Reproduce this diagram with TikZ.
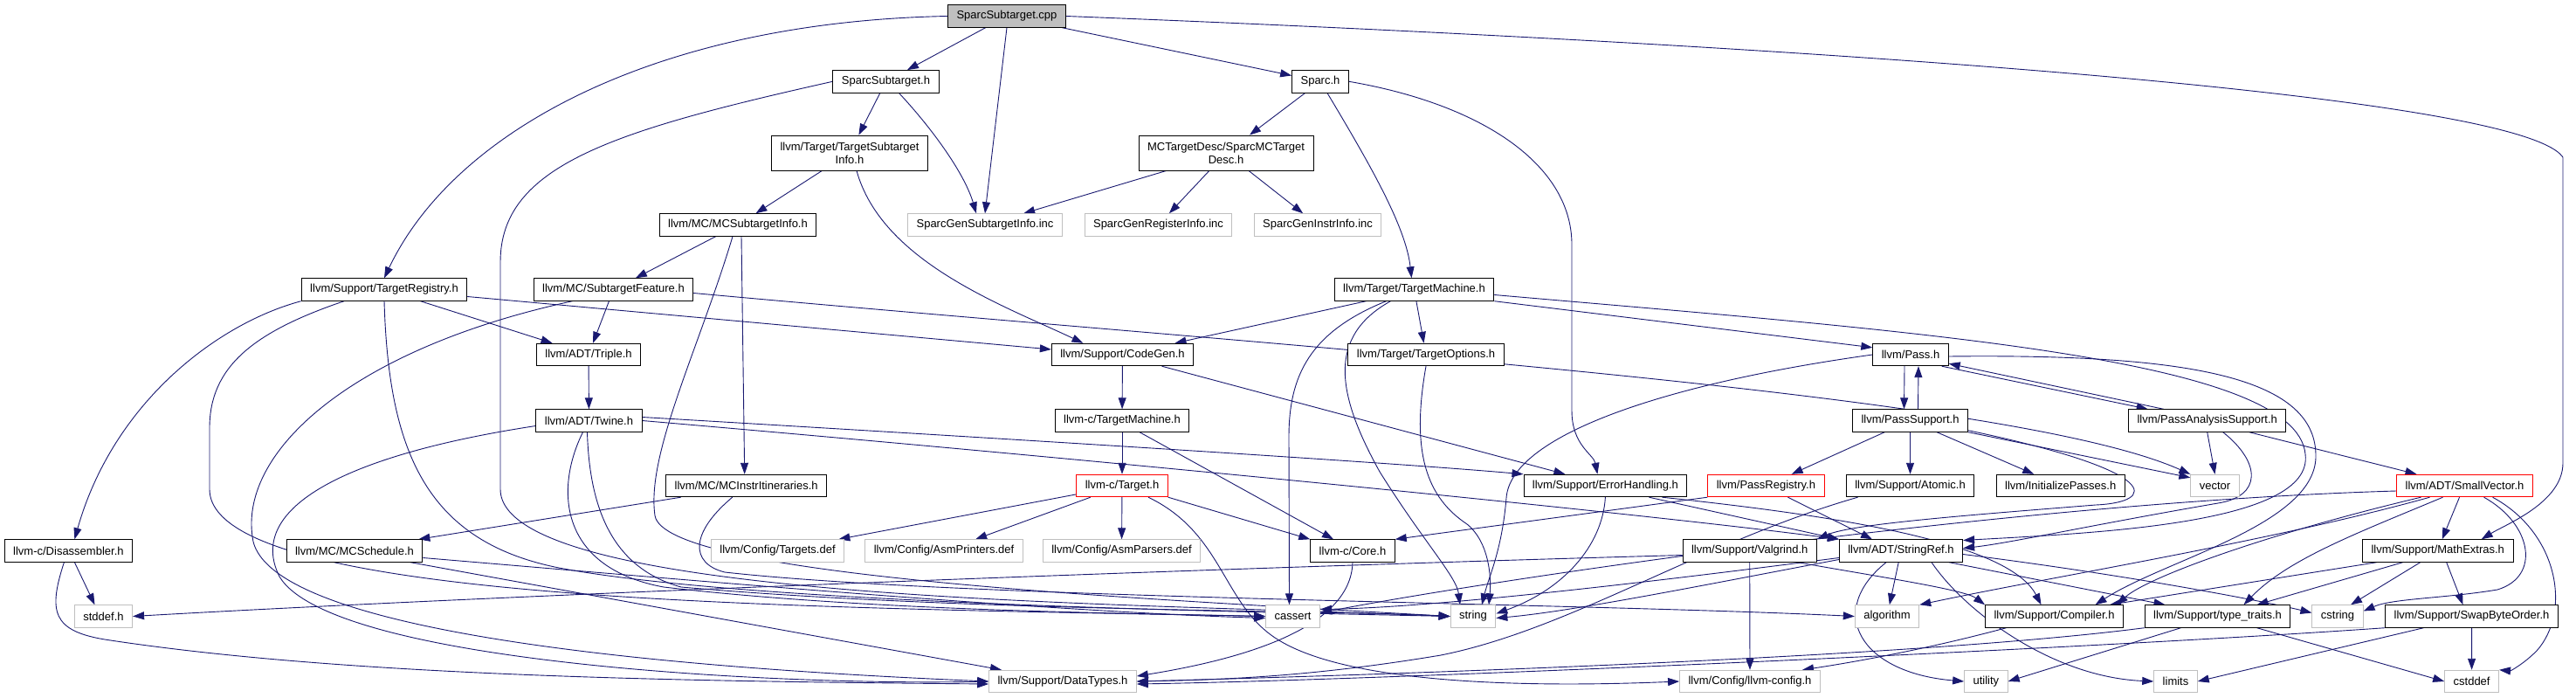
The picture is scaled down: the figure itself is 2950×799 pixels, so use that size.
\documentclass[tikz,border=0pt]{standalone}
\usepackage{fontspec}
\setmainfont{Liberation Sans}
\usepackage{tikz}
\usetikzlibrary{arrows.meta, backgrounds}

\definecolor{edgeblue}{HTML}{191970}
\definecolor{boxgray}{HTML}{BFBFBF}

\tikzset{
  hdr/.style={draw=black, line width=0.9pt, fill=white, inner xsep=10pt, inner ysep=0pt,
    minimum height=25.5pt, font=\fontsize{13}{15}\selectfont},
  hdrtwo/.style={hdr, align=center, minimum height=40pt},
  sys/.style={hdr, draw=boxgray},
  trunc/.style={hdr, draw=red},
  root/.style={hdr, fill=boxgray},
  inc/.style={draw=edgeblue, line width=0.9pt, -{Triangle[length=13pt,width=9pt]}}
}

\begin{document}
\begin{tikzpicture}[x=1pt, y=-1pt]
			\useasboundingbox (0,0) rectangle (2950,799);
			
			% Wurzel
			\node[root] (cpp) at (1153,18.5) {SparcSubtarget.cpp};
			
			% Ebene 1 und 2
			\node[hdr] (sh) at (1014.5,93.3) {SparcSubtarget.h};
			\node[hdr] (sparch) at (1512,93.3) {Sparc.h};
			\node[hdrtwo] (tsi) at (973,175) {llvm/Target/TargetSubtarget\\Info.h};
			\node[hdrtwo] (mctd) at (1404,175) {MCTargetDesc/SparcMCTarget\\Desc.h};
			\node[hdr] (mcsi) at (845,257.5) {llvm/MC/MCSubtargetInfo.h};
			\node[sys] (gensub) at (1128,257.5) {SparcGenSubtargetInfo.inc};
			\node[sys] (genreg) at (1326.5,257.5) {SparcGenRegisterInfo.inc};
			\node[sys] (geninstr) at (1509,257.5) {SparcGenInstrInfo.inc};
			
			% Ebene 3 bis 5
			\node[hdr] (treg) at (440,331.5) {llvm/Support/TargetRegistry.h};
			\node[hdr] (stf) at (702.5,331.5) {llvm/MC/SubtargetFeature.h};
			\node[hdr] (tm) at (1619.5,331.5) {llvm/Target/TargetMachine.h};
			\node[hdr] (triple) at (674,406) {llvm/ADT/Triple.h};
			\node[hdr] (codegen) at (1285.5,406) {llvm/Support/CodeGen.h};
			\node[hdr] (topt) at (1633,406) {llvm/Target/TargetOptions.h};
			\node[hdr] (pass) at (2188,406) {llvm/Pass.h};
			\node[hdr] (twine) at (674.5,481.5) {llvm/ADT/Twine.h};
			\node[hdr] (ctm) at (1285,481.5) {llvm-c/TargetMachine.h};
			\node[hdr] (psup) at (2187.5,481.5) {llvm/PassSupport.h};
			\node[hdr] (pas) at (2527.7,481.5) {llvm/PassAnalysisSupport.h};
			
			% Ebene 6 und 7
			\node[hdr] (mcii) at (854.7,556) {llvm/MC/MCInstrItineraries.h};
			\node[trunc] (ctarget) at (1285,556) {llvm-c/Target.h};
			\node[hdr] (eh) at (1838.4,556) {llvm/Support/ErrorHandling.h};
			\node[trunc] (preg) at (2022.4,556) {llvm/PassRegistry.h};
			\node[hdr] (atomic) at (2187.5,556) {llvm/Support/Atomic.h};
			\node[hdr] (initp) at (2359.7,556) {llvm/InitializePasses.h};
			\node[sys] (vector) at (2536.5,556) {vector};
			\node[trunc] (smallvec) at (2822.5,556) {llvm/ADT/SmallVector.h};
			\node[hdr] (disasm) at (78.4,630.5) {llvm-c/Disassembler.h};
			\node[hdr] (mcsched) at (406,630.5) {llvm/MC/MCSchedule.h};
			\node[sys] (targetsdef) at (890.5,630.5) {llvm/Config/Targets.def};
			\node[sys] (asmprint) at (1081,630.5) {llvm/Config/AsmPrinters.def};
			\node[sys] (asmparse) at (1284.5,630.5) {llvm/Config/AsmParsers.def};
			\node[hdr] (ccore) at (1549,630.5) {llvm-c/Core.h};
			\node[hdr] (valgrind) at (2003.7,630.5) {llvm/Support/Valgrind.h};
			\node[hdr] (strref) at (2177,630.5) {llvm/ADT/StringRef.h};
			\node[hdr] (mathext) at (2791.7,630.5) {llvm/Support/MathExtras.h};
			
			% Ebene 8 und 9
			\node[sys] (stddef) at (118.5,705.5) {stddef.h};
			\node[sys] (cassert) at (1480.5,705.5) {cassert};
			\node[sys] (string) at (1687,705.5) {string};
			\node[sys] (algorithm) at (2161,705.5) {algorithm};
			\node[hdr] (compiler) at (2352.5,705.5) {llvm/Support/Compiler.h};
			\node[hdr] (typetraits) at (2539.5,705.5) {llvm/Support/type\_traits.h};
			\node[sys] (cstring) at (2677,705.5) {cstring};
			\node[hdr] (swap) at (2830.5,705.5) {llvm/Support/SwapByteOrder.h};
			\node[sys] (datatypes) at (1217,780) {llvm/Support/DataTypes.h};
			\node[sys] (llvmconfig) at (2004,780) {llvm/Config/llvm-config.h};
			\node[sys] (utility) at (2274.4,780) {utility};
			\node[sys] (limits) at (2491.5,780) {limits};
			\node[sys] (cstddef) at (2830.6,780) {cstddef};
			
			\begin{scope}[on background layer]
			% SparcSubtarget.cpp
			\draw[inc] (cpp) -- (sh);
			\draw[inc] (cpp) -- (sparch);
			\draw[inc] (cpp.south) -- (gensub.north);
			\draw[inc] (cpp.west) .. controls (750,25) and (520,150) .. (treg.north);
			\draw[inc] (cpp.east) .. controls (1900,45) and (2880,100) .. (2935,180) -- (2935,530) .. controls (2935,575) and (2870,600) .. ([xshift=50]mathext.north);
			
			% SparcSubtarget.h, Sparc.h
			\draw[inc] (sh) -- (tsi);
			\draw[inc] ([xshift=15]sh.south) .. controls (1070,150) and (1105,200) .. ([xshift=-10]gensub.north);
			\draw[inc] (sh.west) .. controls (700,150) and (573,190) .. (573,300) -- (573,560) .. controls (573,690) and (1300,690) .. (string.west);
			\draw[inc] (sparch) -- (mctd);
			\draw[inc] ([xshift=8]sparch.south) .. controls (1570,190) and (1610,260) .. ([xshift=-3]tm.north);
			\draw[inc] (sparch.east) .. controls (1700,120) and (1800,190) .. (1800,280) -- (1800,470) .. controls (1800,510) and (1825,520) .. ([xshift=-9]eh.north);
			
			% TargetSubtargetInfo.h, SparcMCTargetDesc.h
			\draw[inc] (tsi) -- (mcsi);
			\draw[inc] ([xshift=8]tsi.south) .. controls (1010,300) and (1150,350) .. ([xshift=-45]codegen.north);
			\draw[inc] (mctd) -- (gensub);
			\draw[inc] (mctd) -- (genreg);
			\draw[inc] (mctd) -- (geninstr);
			
			% MCSubtargetInfo.h
			\draw[inc] (mcsi) -- (stf);
			\draw[inc] ([xshift=4]mcsi.south) -- ([xshift=-2]mcii.north);
			\draw[inc] ([xshift=-6]mcsi.south) .. controls (800,400) and (740,520) .. (750,590) .. controls (760,660) and (1300,685) .. (string.west);
			
			% TargetRegistry.h
			\draw[inc] (treg.south west) .. controls (250,370) and (130,460) .. ([xshift=7]disasm.north);
			\draw[inc] (treg) -- (triple);
			\draw[inc] ([yshift=-8]treg.east) -- ([yshift=6]codegen.west);
			\draw[inc] ([xshift=-46]treg.south) .. controls (290,380) and (240,420) .. (240,490) -- (240,560) .. controls (240,690) and (900,695) .. (cassert.west);
			\draw[inc] (treg.south) .. controls (445,520) and (490,620) .. (640,650) .. controls (850,690) and (1400,700) .. (string.west);
			
			% SubtargetFeature.h
			\draw[inc] (stf) -- (triple);
			\draw[inc] ([xshift=-47]stf.south) .. controls (400,400) and (270,520) .. (290,620) .. controls (320,740) and (900,770) .. (datatypes.west);
			\draw[inc] ([yshift=-4]stf.east) .. controls (1500,400) and (2300,450) .. (vector.north west);
			
			% TargetMachine.h
			\draw[inc] ([xshift=-55]tm.south) -- ([xshift=60]codegen.north);
			\draw[inc] ([xshift=-32]tm.south) .. controls (1500,380) and (1476,430) .. (1476,500) -- ([xshift=-4]cassert.north);
			\draw[inc] ([xshift=-27]tm.south) .. controls (1520,385) and (1530,450) .. (1580,540) .. controls (1630,620) and (1668,660) .. ([xshift=-15]string.north);
			\draw[inc] (tm) -- (topt);
			\draw[inc] (tm.south east) -- ([yshift=-5]pass.north west);
			\draw[inc] ([yshift=-6]tm.east) .. controls (2200,380) and (2630,410) .. (2640,520) .. controls (2650,600) and (2400,610) .. ([yshift=12]strref.east);
			\draw[inc] (topt.south) .. controls (1615,520) and (1635,570) .. (1680,600) .. controls (1705,620) and (1708,660) .. ([xshift=18]string.north);
			
			% CodeGen.h, Triple.h, Twine.h
			\draw[inc] (codegen) -- (ctm);
			\draw[inc] ([xshift=45]codegen.south) -- ([xshift=-46]eh.north);
			\draw[inc] (triple) -- (twine);
			\draw[inc] ([yshift=-6]twine.west) .. controls (400,520) and (280,580) .. (320,660) .. controls (380,760) and (900,785) .. (datatypes.west);
			\draw[inc] ([xshift=-7]twine.south) .. controls (635,560) and (640,650) .. (760,672) .. controls (1000,700) and (1300,702) .. (cassert.west);
			\draw[inc] ([xshift=-2]twine.south) .. controls (675,580) and (700,650) .. (780,672) .. controls (1100,700) and (1500,698) .. (string.west);
			\draw[inc] ([yshift=4]twine.east) .. controls (1200,505) and (1600,530) .. (eh.north west);
			\draw[inc] (twine.east) .. controls (1300,530) and (1900,590) .. (strref.north west);
			
			% llvm-c
			\draw[inc] (ctm) -- (ctarget);
			\draw[inc] ([xshift=20]ctm.south) -- ([xshift=-22]ccore.north);
			\draw[inc] (ctarget) -- (targetsdef);
			\draw[inc] (ctarget) -- (asmprint);
			\draw[inc] (ctarget) -- (asmparse);
			\draw[inc] (ctarget.south east) -- (ccore.north west);
			\draw[inc] ([xshift=30]ctarget.south) .. controls (1400,610) and (1400,690) .. (1460,730) .. controls (1550,790) and (1800,785) .. (llvmconfig.west);
			\draw[inc] (ccore.south) .. controls (1547,720) and (1420,755) .. ([yshift=6]datatypes.east);
			
			% MC
			\draw[inc] ([xshift=-75]mcii.south) -- ([xshift=-5]mcsched.north east);
			\draw[inc] ([xshift=-16]mcii.south) .. controls (790,610) and (790,645) .. (830,655) .. controls (1100,685) and (1800,690) .. (algorithm.west);
			\draw[inc] ([yshift=-8]mcsched.east) .. controls (800,665) and (1200,700) .. ([yshift=-2]cassert.west);
			\draw[inc] ([xshift=64]mcsched.south) -- ([xshift=-70]datatypes.north);
			\draw[inc] ([xshift=7]disasm.south) -- ([xshift=-10]stddef.north);
			\draw[inc] ([xshift=-5]disasm.south) .. controls (55,700) and (60,722) .. (120,732) .. controls (400,775) and (800,780) .. ([yshift=-3]datatypes.west);
			
			% ErrorHandling.h, PassRegistry.h
			\draw[inc] (eh.south) .. controls (1835,625) and (1790,675) .. ([yshift=3]string.east);
			\draw[inc] ([xshift=50]eh.south) -- (strref.north west);
			\draw[inc] ([xshift=65]eh.south) .. controls (2100,590) and (2300,620) .. ([xshift=-15]compiler.north);
			\draw[inc] (preg.south west) -- (ccore.north east);
			\draw[inc] ([xshift=25]preg.south) -- ([xshift=-33]strref.north);
			
			% Pass.h, PassSupport.h
			\draw[inc] ([xshift=-7]pass.south) -- ([xshift=-7]psup.north);
			\draw[inc] ([xshift=9]psup.north) -- ([xshift=9]pass.south);
			\draw[inc] (pass.west) .. controls (1900,440) and (1730,500) .. (1725,570) .. controls (1720,630) and (1705,660) .. ([xshift=10]string.north);
			\draw[inc] ([yshift=-2]pass.east) .. controls (2500,405) and (2650,430) .. (2652,520) .. controls (2655,600) and (2480,640) .. ([xshift=47]compiler.north);
			\draw[inc] ([xshift=-8]pass.south east) -- ([xshift=-68]pas.north);
			\draw[inc] ([xshift=-50]pas.north) -- ([yshift=3]pass.south east);
			\draw[inc] (psup) -- (preg);
			\draw[inc] (psup) -- (atomic);
			\draw[inc] (psup) -- (initp);
			\draw[inc] (psup.south east) -- ([yshift=-4]vector.north west);
			\draw[inc] ([yshift=2]psup.south east) .. controls (2480,540) and (2470,575) .. (2400,578) .. controls (2250,590) and (2120,600) .. (valgrind.north east);
			
			% PassAnalysisSupport.h
			\draw[inc] (pas.south) -- (vector.north);
			\draw[inc] ([xshift=48]pas.south) -- ([xshift=-55]smallvec.north);
			\draw[inc] ([xshift=18]pas.south) .. controls (2590,530) and (2590,568) .. (2540,576) .. controls (2400,600) and (2300,622) .. ([yshift=3]strref.east);
			
			% SmallVector.h
			\draw[inc] ([yshift=-6]smallvec.west) .. controls (2300,575) and (1700,665) .. ([yshift=4]cassert.east);
			\draw[inc] ([xshift=-50]smallvec.south) .. controls (2600,610) and (2460,660) .. ([xshift=-8]compiler.north east);
			\draw[inc] ([xshift=-25]smallvec.south) .. controls (2700,610) and (2620,640) .. ([xshift=30]typetraits.north);
			\draw[inc] ([xshift=-6]smallvec.south) -- ([xshift=5]mathext.north);
			\draw[inc] ([xshift=22]smallvec.south) .. controls (2900,600) and (2910,660) .. (2860,675) .. controls (2800,685) and (2740,685) .. ([yshift=6]cstring.east);
			\draw[inc] ([xshift=32]smallvec.south) .. controls (2930,610) and (2945,700) .. (2905,745) .. controls (2890,760) and (2875,768) .. (cstddef.north east);
			\draw[inc] ([xshift=-40]smallvec.south) .. controls (2600,620) and (2350,660) .. (algorithm.north east);
			
			% StringRef.h
			\draw[inc] ([xshift=55]strref.south) -- ([xshift=-60]typetraits.north);
			\draw[inc] (strref) -- (algorithm);
			\draw[inc] ([yshift=-8]strref.west) .. controls (1900,665) and (1650,695) .. ([yshift=8]cassert.east);
			\draw[inc] ([yshift=-10]strref.west) .. controls (1950,670) and (1800,700) .. ([yshift=-2]string.east);
			\draw[inc] ([yshift=-4]strref.east) .. controls (2450,660) and (2600,690) .. ([yshift=4]cstring.west);
			\draw[inc] ([xshift=35]strref.south) .. controls (2250,700) and (2350,775) .. (limits.west);
			\draw[inc] ([xshift=-17]strref.south) .. controls (2090,700) and (2130,770) .. (utility.west);
			
			% MathExtras.h, Compiler.h, type_traits.h, SwapByteOrder.h
			\draw[inc] ([xshift=-70]mathext.south) -- ([xshift=-16]compiler.north east);
			\draw[inc] ([xshift=-40]mathext.south) -- ([xshift=45]typetraits.north);
			\draw[inc] ([xshift=-20]mathext.south) -- ([xshift=15]cstring.north);
			\draw[inc] ([xshift=10]mathext.south) -- ([xshift=-10]swap.north);
			\draw[inc] ([xshift=-55]compiler.south) .. controls (2200,745) and (2110,760) .. ([xshift=60]llvmconfig.north);
			\draw[inc] (typetraits.south west) .. controls (2200,752) and (1600,772) .. (datatypes.east);
			\draw[inc] ([xshift=-42]typetraits.south) -- (utility.east);
			\draw[inc] ([xshift=45]typetraits.south) -- (cstddef.west);
			\draw[inc] (swap.south west) .. controls (2400,742) and (1600,778) .. ([yshift=-3]datatypes.east);
			\draw[inc] (swap) -- (cstddef);
			\draw[inc] ([xshift=-55]swap.south) -- (limits.east);
			
			% Valgrind.h, Atomic.h
			\draw[inc] (valgrind) -- (llvmconfig);
			\draw[inc] ([xshift=55]valgrind.south) .. controls (2150,660) and (2250,675) .. (compiler.north west);
			\draw[inc] ([yshift=-5]valgrind.west) .. controls (1400,650) and (600,680) .. (stddef.east);
			\draw[inc] ([xshift=-60]atomic.south) .. controls (1950,620) and (1800,720) .. (1650,750) .. controls (1500,775) and (1400,778) .. (datatypes.east);
			\end{scope}
		\end{tikzpicture}
\end{document}
